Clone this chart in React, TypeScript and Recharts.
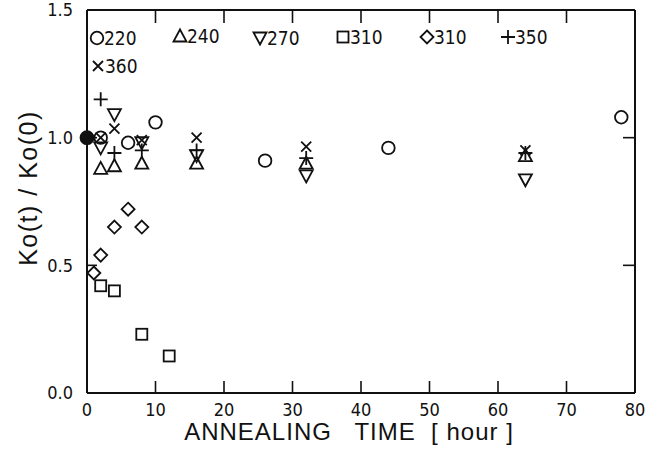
import React from 'react';
import { ScatterChart, Scatter, XAxis, YAxis, ReferenceLine } from 'recharts';

// annealing time [hour] and Ko(t)/Ko(0) for each annealing temperature
const timeTicks = [0, 10, 20, 30, 40, 50, 60, 70, 80];
const ratioTicks = [0, 0.5, 1.0, 1.5];

const t220 = [2, 6, 10, 26, 44, 78];
const v220 = [1.0, 0.98, 1.06, 0.91, 0.96, 1.08];

const t240 = [2, 4, 8, 16, 32, 64];
const v240 = [0.88, 0.89, 0.9, 0.9, 0.9, 0.93];

const t270 = [2, 4, 8, 16, 32, 64];
const v270 = [0.96, 1.09, 0.98, 0.93, 0.85, 0.835];

const t310sq = [2, 4, 8, 12];
const v310sq = [0.42, 0.4, 0.23, 0.145];

const t310dm = [1, 2, 4, 6, 8];
const v310dm = [0.47, 0.54, 0.65, 0.72, 0.65];

const t350 = [2, 4, 8, 16, 32, 64];
const v350 = [1.15, 0.94, 0.95, 0.95, 0.92, 0.94];

const t360 = [2, 4, 8, 16, 32, 64];
const v360 = [1.0, 1.035, 0.99, 1.0, 0.965, 0.95];

const tStart = [0];
const vStart = [1.0];

type Kind = 'circle' | 'triangle' | 'down' | 'square' | 'diamond' | 'plus' | 'cross' | 'dot';

const toPoints = (ts: number[], vs: number[]) => ts.map((t, i) => ({ t, v: vs[i] }));

const series: { kind: Kind; data: { t: number; v: number }[] }[] = [
  { kind: 'circle', data: toPoints(t220, v220) },
  { kind: 'triangle', data: toPoints(t240, v240) },
  { kind: 'down', data: toPoints(t270, v270) },
  { kind: 'square', data: toPoints(t310sq, v310sq) },
  { kind: 'diamond', data: toPoints(t310dm, v310dm) },
  { kind: 'plus', data: toPoints(t350, v350) },
  { kind: 'cross', data: toPoints(t360, v360) },
];
const startPoints = toPoints(tStart, vStart);

const ink = '#111';
const sw = 1.8;

const Marker = ({ kind, cx, cy }: { kind: Kind; cx: number; cy: number }) => {
  switch (kind) {
    case 'circle':
      return <circle cx={cx} cy={cy} r={6.3} fill="none" stroke={ink} strokeWidth={sw} />;
    case 'dot':
      return <circle cx={cx} cy={cy} r={6.5} fill={ink} stroke={ink} strokeWidth={sw} />;
    case 'triangle':
      return <path d={`M${cx},${cy - 6.5} L${cx + 6.5},${cy + 5.5} L${cx - 6.5},${cy + 5.5} Z`} fill="none" stroke={ink} strokeWidth={sw} />;
    case 'down':
      return <path d={`M${cx},${cy + 6.5} L${cx + 6.5},${cy - 5.5} L${cx - 6.5},${cy - 5.5} Z`} fill="none" stroke={ink} strokeWidth={sw} />;
    case 'square':
      return <rect x={cx - 5.5} y={cy - 5.5} width={11} height={11} fill="none" stroke={ink} strokeWidth={sw} />;
    case 'diamond':
      return <path d={`M${cx},${cy - 6.5} L${cx + 6.5},${cy} L${cx},${cy + 6.5} L${cx - 6.5},${cy} Z`} fill="none" stroke={ink} strokeWidth={sw} />;
    case 'plus':
      return <path d={`M${cx - 7},${cy} H${cx + 7} M${cx},${cy - 7} V${cy + 7}`} stroke={ink} strokeWidth={sw} />;
    case 'cross':
      return <path d={`M${cx - 5},${cy - 5} L${cx + 5},${cy + 5} M${cx + 5},${cy - 5} L${cx - 5},${cy + 5}`} stroke={ink} strokeWidth={sw} />;
  }
  return null;
};

// temperature labels along the top of the frame
const legendItems: { kind: Kind; label: string; x: number; y: number }[] = [
  { kind: 'circle', label: '220', x: 97, y: 38 },
  { kind: 'triangle', label: '240', x: 180, y: 36 },
  { kind: 'down', label: '270', x: 260, y: 38 },
  { kind: 'square', label: '310', x: 343, y: 37 },
  { kind: 'diamond', label: '310', x: 427, y: 37 },
  { kind: 'plus', label: '350', x: 508, y: 37 },
  { kind: 'cross', label: '360', x: 98, y: 66 },
];

const narrow = '"Liberation Sans Narrow", "DejaVu Sans Condensed", "Liberation Sans", sans-serif';
const font = '"Liberation Sans", Arial, sans-serif';
const axisLine = { stroke: ink, strokeWidth: 2 };
const tickStroke = 1.6;

// ticks point into the frame, so the lines are drawn together with the labels
const BottomTick = (p: any) => {
  const ay = p.y - 10;
  return (
    <g>
      <line x1={p.x} x2={p.x} y1={ay} y2={ay - 12} stroke={ink} strokeWidth={tickStroke} />
      <text x={p.x} y={p.y} dy="0.71em" textAnchor="middle" fontSize={18} fontFamily={narrow} fill={ink}>
        {p.payload.value}
      </text>
    </g>
  );
};

const LeftTick = (p: any) => {
  const ax = p.x + 14;
  return (
    <g>
      <line x1={ax} x2={ax + 10} y1={p.y} y2={p.y} stroke={ink} strokeWidth={tickStroke} />
      <text x={p.x} y={p.y} dy="0.36em" textAnchor="end" fontSize={18} fontFamily={narrow} fill={ink}>
        {Number(p.payload.value).toFixed(1)}
      </text>
    </g>
  );
};

const TopTick = (p: any) => (
  <line x1={p.x} x2={p.x} y1={p.y} y2={p.y + 13} stroke={ink} strokeWidth={tickStroke} />
);

const RightTick = (p: any) => (
  <line x1={p.x} x2={p.x - 12} y1={p.y} y2={p.y} stroke={ink} strokeWidth={tickStroke} />
);

export default function App() {
  return (
    <div style={{ position: 'absolute', left: 0, top: 0, width: 649, height: 451, background: '#fff' }}>
      <ScatterChart width={649} height={451} margin={{ top: 9, right: 0, bottom: 0, left: 0 }}>
        <XAxis
          xAxisId="bottom"
          dataKey="t"
          type="number"
          domain={[0, 80]}
          ticks={timeTicks}
          tickSize={0}
          tickMargin={10}
          height={58}
          axisLine={axisLine}
          tickLine={false}
          tick={BottomTick}
          interval={0}
        />
        <XAxis
          xAxisId="top"
          orientation="top"
          dataKey="t"
          type="number"
          domain={[0, 80]}
          ticks={timeTicks}
          tickSize={0}
          tickMargin={0}
          height={1}
          axisLine={axisLine}
          tickLine={false}
          tick={TopTick}
          interval={0}
        />
        <YAxis
          yAxisId="left"
          dataKey="v"
          type="number"
          domain={[0, 1.5]}
          ticks={ratioTicks}
          tickSize={0}
          tickMargin={14}
          width={87}
          axisLine={axisLine}
          tickLine={false}
          tick={LeftTick}
          interval={0}
        />
        <YAxis
          yAxisId="right"
          orientation="right"
          dataKey="v"
          type="number"
          domain={[0, 1.5]}
          ticks={ratioTicks}
          tickSize={0}
          tickMargin={0}
          width={14}
          axisLine={axisLine}
          tickLine={false}
          tick={RightTick}
          interval={0}
        />
        <ReferenceLine xAxisId="bottom" yAxisId="left" y={1.5} stroke={ink} strokeWidth={2} />
        {series.map((s, i) => (
          <Scatter
            key={i}
            xAxisId="bottom"
            yAxisId="left"
            data={s.data}
            isAnimationActive={false}
            shape={(p: any) => <Marker kind={s.kind} cx={p.cx} cy={p.cy} />}
          />
        ))}
        <Scatter
          xAxisId="top"
          yAxisId="right"
          data={startPoints}
          isAnimationActive={false}
          shape={(p: any) => <Marker kind="dot" cx={p.cx} cy={p.cy} />}
        />
      </ScatterChart>
      <svg width={649} height={451} style={{ position: 'absolute', left: 0, top: 0, pointerEvents: 'none' }}>
        {legendItems.map((it, i) => (
          <g key={i}>
            <Marker kind={it.kind} cx={it.x} cy={it.y} />
            <text x={it.x + 7} y={it.y + 7} fontSize={19} fontFamily={narrow} fill={ink}>
              {it.label}
            </text>
          </g>
        ))}
        <text
          x={349}
          y={440}
          textAnchor="middle"
          fontSize={24}
          fontFamily={font}
          fill={ink}
          letterSpacing={1}
          style={{ whiteSpace: 'pre' }}
        >
          {'ANNEALING   TIME  [ hour ]'}
        </text>
        <text
          transform="translate(37,188) rotate(-90)"
          textAnchor="middle"
          fontSize={25}
          fontFamily={font}
          fill={ink}
          letterSpacing={1.5}
          style={{ whiteSpace: 'pre' }}
        >
          {'Ko(t) / Ko(0)'}
        </text>
      </svg>
    </div>
  );
}
